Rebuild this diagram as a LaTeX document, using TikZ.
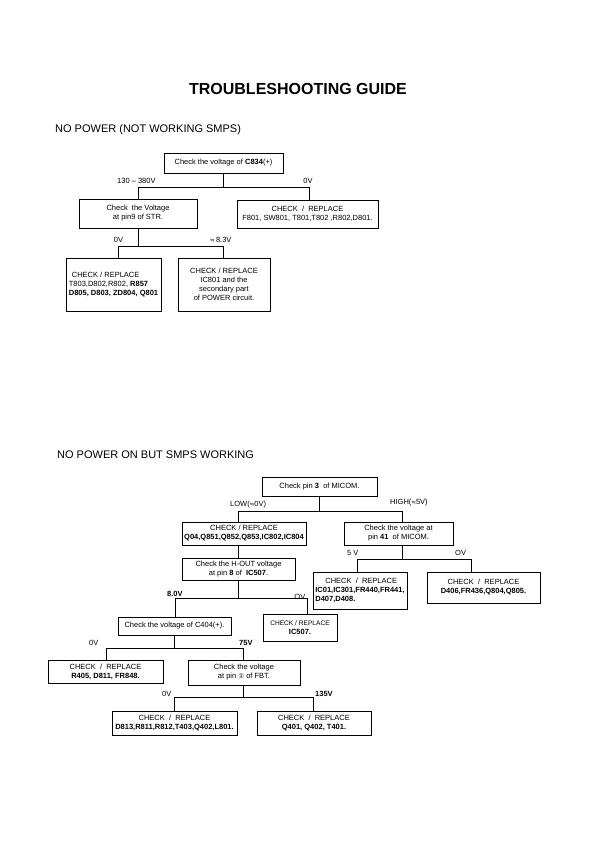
\documentclass[tikz,border=0pt]{standalone}
\usepackage{fontspec}
\setmainfont{Liberation Sans}
\newfontfamily\symfont{DejaVu Sans}
\newcommand{\approxsym}{{\symfont\fontsize{5.5}{6}\selectfont ≒}}
\begin{document}
\begin{tikzpicture}[x=1pt,y=-1pt,
  box/.style={draw=black, line width=0.7pt, inner sep=1pt, align=center,
    font=\fontsize{7.5}{9}\selectfont},
  lbl/.style={inner sep=0pt, font=\fontsize{7.5}{8}\selectfont},
  blbl/.style={lbl, font=\bfseries\fontsize{7.5}{8}\selectfont},
  wire/.style={line width=0.7pt}]
\useasboundingbox (0,0) rectangle (595,842);
\fill[white] (0,0) rectangle (595,842);

\node[font=\bfseries\fontsize{16}{18}\selectfont] (title) at (298,89) {TROUBLESHOOTING GUIDE};
\node[anchor=west, inner sep=0pt, font=\fontsize{11}{13}\selectfont] (h1) at (55,130) {NO POWER (NOT WORKING SMPS)};
\node[anchor=west, inner sep=0pt, font=\fontsize{11}{13}\selectfont] (h2) at (57,455) {NO POWER ON BUT SMPS WORKING};

% ---------- section 1 ----------
\node[box, minimum width=119, minimum height=20] (A) at (223.5,163) {Check the voltage of \textbf{C834}(+)};
\node[box, minimum width=118, minimum height=29] (B) at (138,213.5) {Check\ \ the Voltage\\at pin9 of STR.};
\node[box, minimum width=141, minimum height=28] (C) at (307.5,214) {CHECK\ \ /\ \ REPLACE\\F801, SW801, T801,T802 ,R802,D801.};
\node[box, align=left, minimum width=95, minimum height=53] (D) at (113.5,284.5) {\hspace*{3pt}CHECK / REPLACE\\T803,D802,R802, \textbf{R857}\\\textbf{D805, D803, ZD804, Q801}};
\node[box, minimum width=92, minimum height=53] (E) at (224,284.5) {CHECK / REPLACE\\IC801 and the\\secondary part\\of POWER circuit.};

\coordinate (aL) at (138,187);
\coordinate (aR) at (309,187);
\draw[wire] (A.south) -- (A.south |- aL);
\draw[wire] (aL) -- (aR);
\draw[wire] (aL) -- (aL |- B.north);
\draw[wire] (aR) -- (aR |- C.north);
\node[lbl, anchor=west] (l1) at (117,181) {130 -- 380V};
\node[lbl] (l2) at (308,181) {0V};

\coordinate (bL) at (118,246);
\coordinate (bR) at (223,246);
\draw[wire] (B.south) -- (B.south |- bL);
\draw[wire] (bL) -- (bR);
\draw[wire] (bL) -- (bL |- D.north);
\draw[wire] (bR) -- (bR |- E.north);
\node[lbl] (l3) at (118.5,240) {0V};
\node[lbl, anchor=west] (l4) at (210,240) {\approxsym\,8.3V};

% ---------- section 2 ----------
\node[box, minimum width=115, minimum height=19] (F) at (319.5,486.5) {Check pin \textbf{3}\ \ of MICOM.};
\node[box, minimum width=124, minimum height=23] (G) at (244,533.5) {CHECK / REPLACE\\\textbf{Q04,Q851,Q852,Q853,IC802,IC804}};
\node[box, minimum width=109, minimum height=23] (H) at (398.5,533.5) {Check the voltage at\\pin \textbf{41}\ \ of MICOM.};
\node[box, align=left, minimum width=94, minimum height=37] (I) at (360,590.5) {\hspace*{10pt}CHECK\ \ /\ \ REPLACE\\\textbf{IC01,IC301,FR440,FR441,}\\\textbf{D407,D408.}};
\node[box, minimum width=113, minimum height=31] (J) at (483.5,587.5) {CHECK\ \ /\ \ REPLACE\\\textbf{D406,FR436,Q804,Q805.}};
\node[box, minimum width=113, minimum height=22] (K) at (238.5,569) {Check the H-OUT voltage\\at pin \textbf{8} of\ \ \textbf{IC507}.};
\node[box, minimum width=113, minimum height=18] (L) at (174.5,626) {Check the voltage of C404(+).};
\node[box, minimum width=74, minimum height=27] (M) at (300,627.5) {{\fontsize{6.6}{9}\selectfont CHECK / REPLACE}\\\textbf{IC507.}};
\node[box, minimum width=115, minimum height=23] (N) at (105.5,671.5) {CHECK\ \ /\ \ REPLACE\\\textbf{R405, D811, FR848.}};
\node[box, minimum width=112, minimum height=25] (O) at (244,672.5) {Check the voltage\\at pin {\symfont\fontsize{6.5}{8}\selectfont ①} of FBT.};
\node[box, minimum width=125, minimum height=24] (P) at (174.5,723) {CHECK\ \ /\ \ REPLACE\\\textbf{D813,R811,R812,T403,Q402,L801.}};
\node[box, minimum width=114, minimum height=24] (Q) at (314,723) {CHECK\ \ /\ \ REPLACE\\\textbf{Q401, Q402, T401.}};

% F -> G, H
\coordinate (fS) at (319,0);
\coordinate (fL) at (238,511);
\coordinate (fR) at (402,511);
\draw[wire] (F.south -| fS) -- (fS |- fL);
\draw[wire] (fL) -- (fR);
\draw[wire] (fL) -- (fL |- G.north);
\draw[wire] (fR) -- (fR |- H.north);
\node[lbl, anchor=west] (l5) at (230,505) {LOW(\approxsym0V)};
\node[lbl, anchor=west] (l6) at (390,503) {HIGH(\approxsym5V)};

% H -> I, J
\coordinate (hS) at (402,0);
\coordinate (hL) at (357,559);
\coordinate (hR) at (471,559);
\draw[wire] (H.south -| hS) -- (hS |- hL);
\draw[wire] (hL) -- (hR);
\draw[wire] (hL) -- (hL |- I.north);
\draw[wire] (hR) -- (hR |- J.north);
\node[lbl, anchor=west] (l7) at (347,553) {5 V};
\node[lbl, anchor=west] (l8) at (455,553) {OV};

% G -> K
\coordinate (gS) at (238,0);
\draw[wire] (G.south -| gS) -- (K.north -| gS);

% K -> L, M
\coordinate (kL) at (175,598);
\coordinate (kR) at (307,598);
\draw[wire] (K.south -| gS) -- (gS |- kL);
\draw[wire] (kL) -- (kR);
\draw[wire] (kL) -- (kL |- L.north);
\draw[wire] (kR) -- (kR |- M.north);
\node[blbl, anchor=west] (l9) at (167,594) {8.0V};
\node[lbl, anchor=east] (l10) at (305.5,597) {OV};

% L -> N, O
\coordinate (mL) at (106,648);
\coordinate (mR) at (243,648);
\draw[wire] (L.south) -- (L.south |- mL);
\draw[wire] (mL) -- (mR);
\draw[wire] (mL) -- (mL |- N.north);
\draw[wire] (mR) -- (mR |- O.north);
\node[lbl, anchor=west] (l11) at (89,643) {0V};
\node[blbl, anchor=west] (l12) at (239,643) {75V};

% O -> P, Q
\coordinate (oS) at (243,0);
\coordinate (oL) at (174,697);
\coordinate (oR) at (313,697);
\draw[wire] (O.south -| oS) -- (oS |- oL);
\draw[wire] (oL) -- (oR);
\draw[wire] (oL) -- (oL |- P.north);
\draw[wire] (oR) -- (oR |- Q.north);
\node[lbl, anchor=west] (l13) at (162,694) {0V};
\node[blbl, anchor=west] (l14) at (315,694) {135V};
\end{tikzpicture}
\end{document}
